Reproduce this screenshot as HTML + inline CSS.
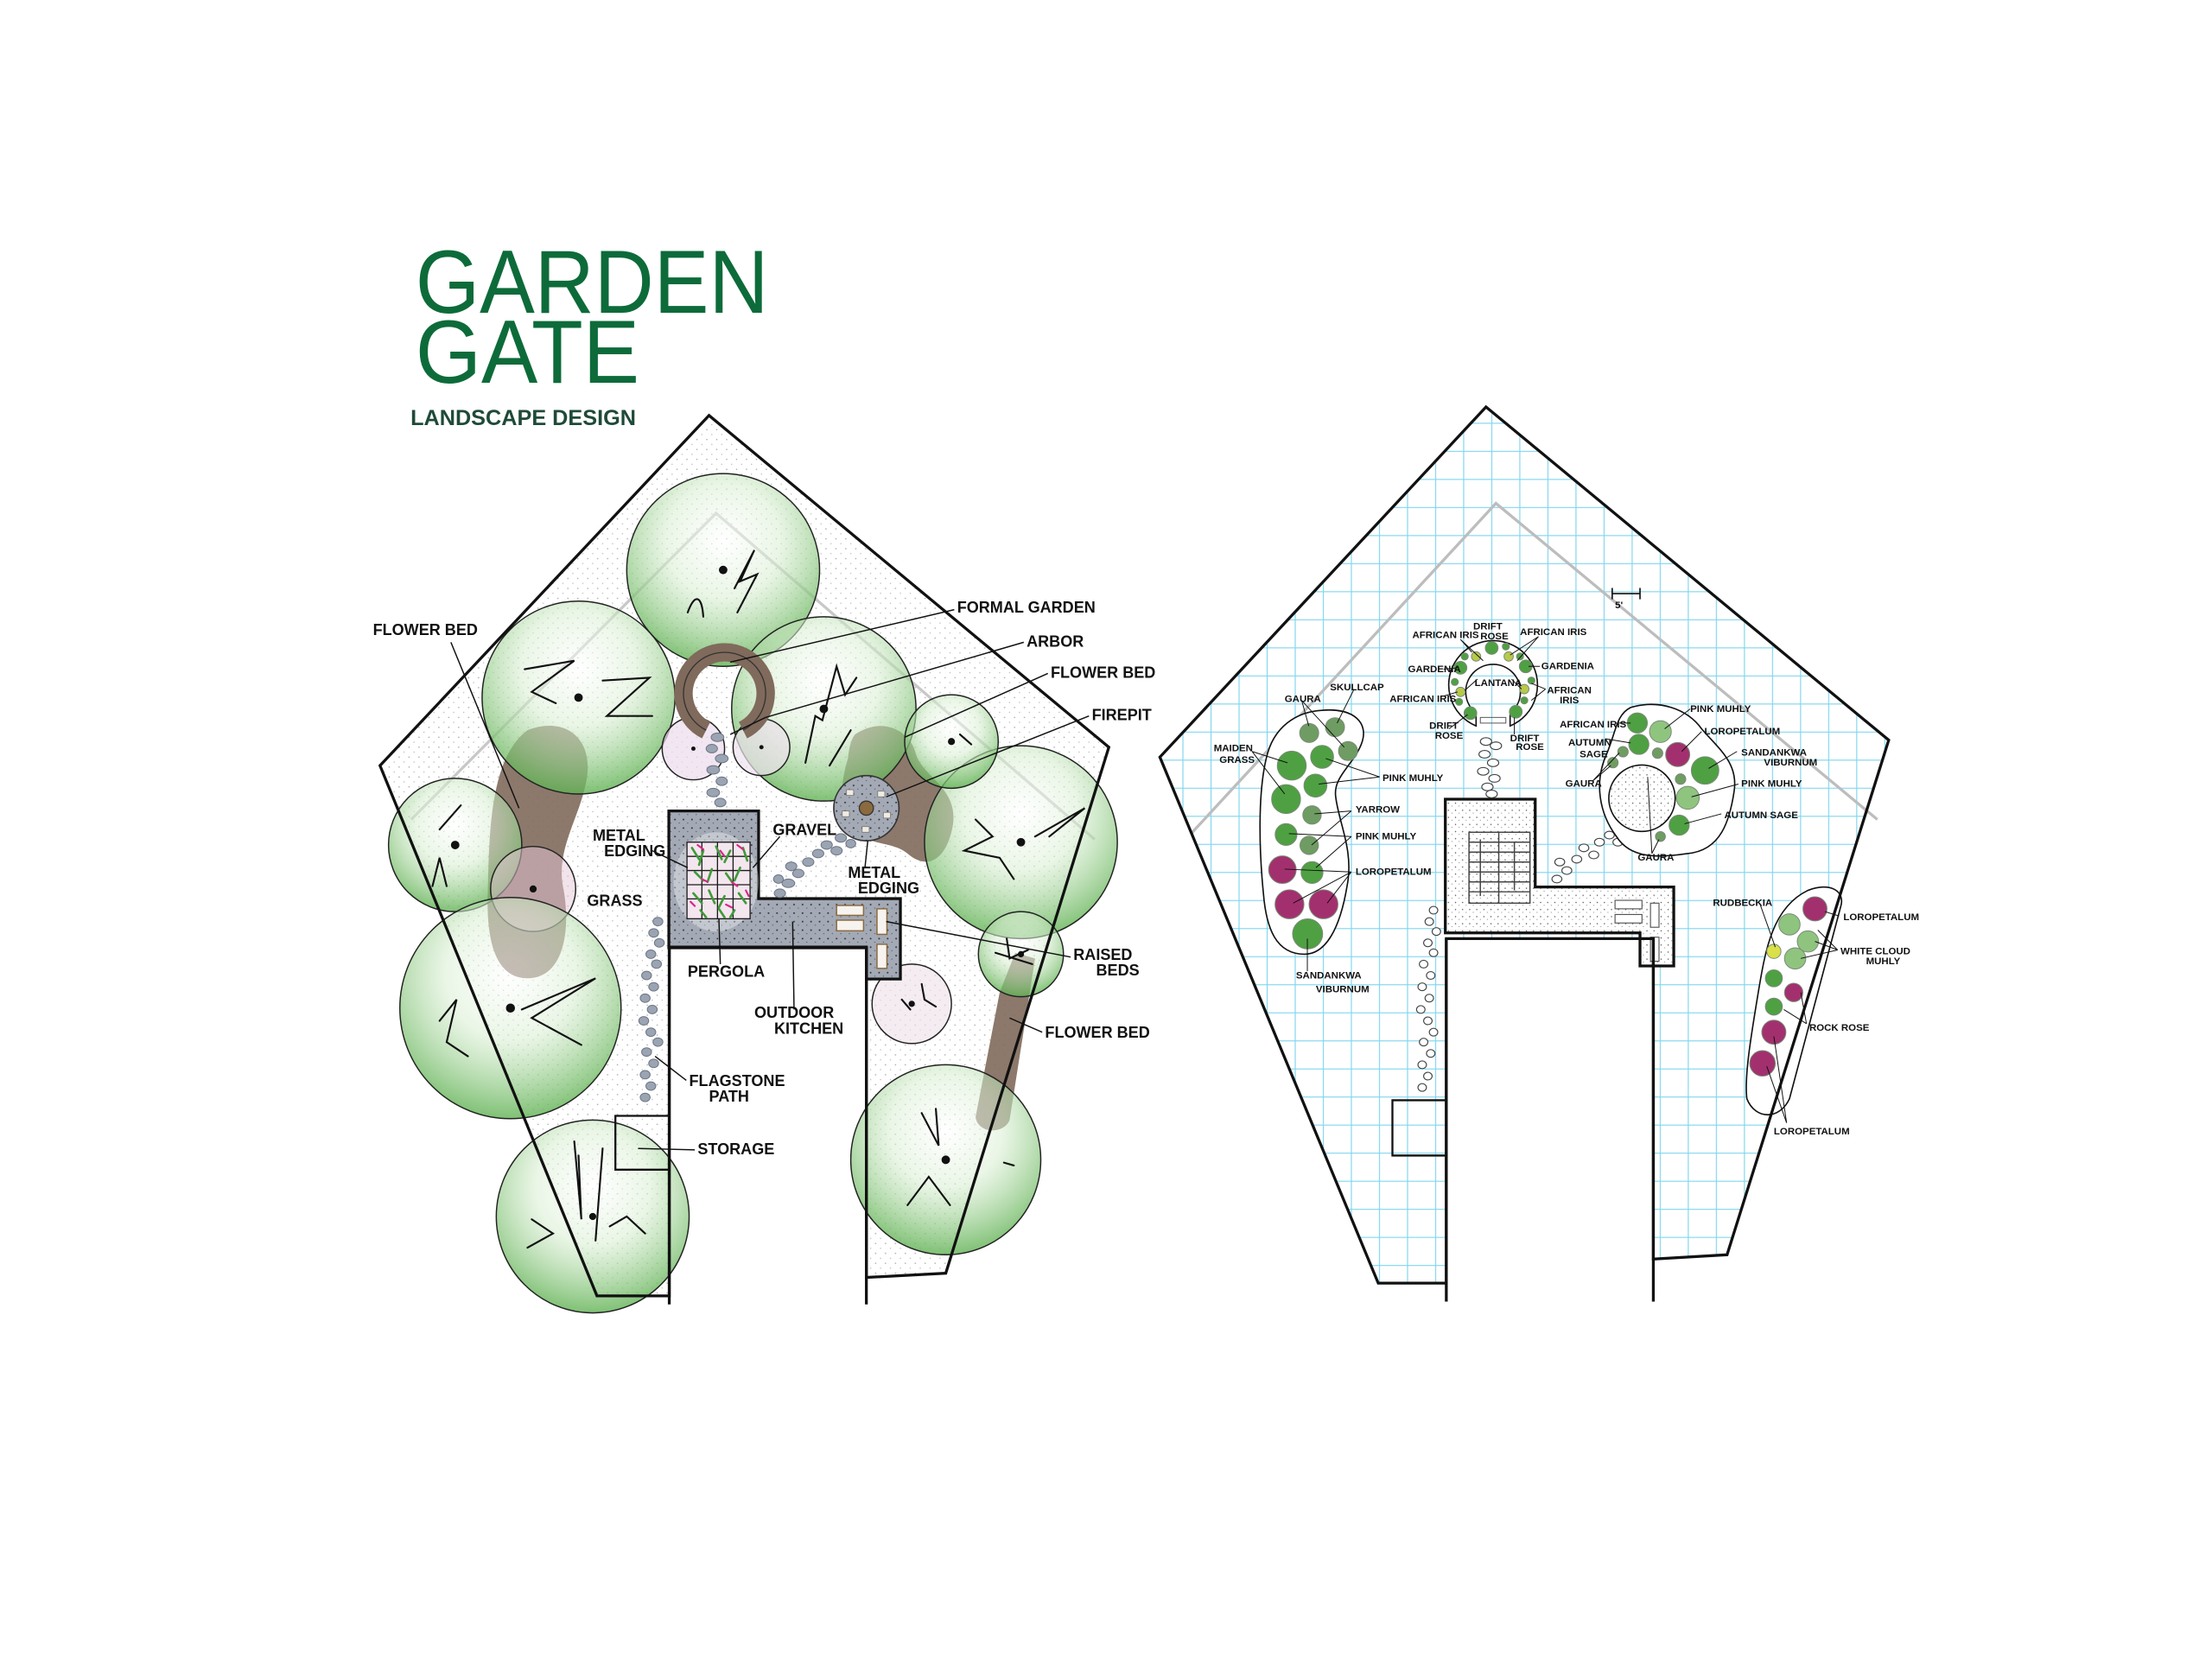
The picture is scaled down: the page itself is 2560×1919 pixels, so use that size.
<!DOCTYPE html>
<html><head><meta charset="utf-8"><style>
html,body{margin:0;padding:0;background:#fff;}
svg{display:block;}
text{font-family:"Liberation Sans",sans-serif;}
.lb{font-weight:bold;font-size:11px;fill:#111;}
.sm{font-weight:bold;font-size:7px;fill:#111;}
.ln{stroke:#111;stroke-width:0.9;fill:none;}
.tr{fill:url(#tg);stroke:#222;stroke-width:0.9;}
.sq{stroke:#111;stroke-width:1.3;fill:none;stroke-linecap:round;}
.fs{fill:#9ba4b3;stroke:#6d7583;stroke-width:0.6;}
.fw{fill:#fff;stroke:#444;stroke-width:0.7;}
.g1{fill:#4fa043;stroke:#7a8a77;stroke-width:0.6;}
.g2{fill:#8fc47f;stroke:#7a8a77;stroke-width:0.6;}
.g3{fill:#6f9c62;stroke:#7a8a77;stroke-width:0.6;}
.mg{fill:#a3306e;stroke:#7a8a77;stroke-width:0.6;}
</style></head><body>
<svg width="2560" height="1919" viewBox="0 0 1560 1169.4" preserveAspectRatio="none" xmlns="http://www.w3.org/2000/svg">
<defs>
<radialGradient id="tg" cx="50%" cy="35%" r="65%">
<stop offset="0%" stop-color="#ffffff" stop-opacity="0.5"/>
<stop offset="45%" stop-color="#d9eed2" stop-opacity="0.55"/>
<stop offset="100%" stop-color="#5fb152" stop-opacity="0.8"/>
</radialGradient>
<pattern id="dots" width="7" height="7" patternUnits="userSpaceOnUse">
<rect width="7" height="7" fill="#fff"/><circle cx="1.5" cy="2" r="0.5" fill="#aaa"/><circle cx="5" cy="5.5" r="0.45" fill="#bbb"/>
</pattern>
<pattern id="pdots" width="6" height="6" patternUnits="userSpaceOnUse">
<rect width="6" height="6" fill="#a3a9b5"/><circle cx="2" cy="2" r="0.6" fill="#333"/><circle cx="5" cy="4.5" r="0.4" fill="#555"/>
</pattern>
<pattern id="wdots" width="5" height="5" patternUnits="userSpaceOnUse">
<rect width="5" height="5" fill="#fff"/><circle cx="1.5" cy="1.5" r="0.45" fill="#555"/><circle cx="4" cy="3.5" r="0.35" fill="#888"/>
</pattern>
<pattern id="grid" width="19.8" height="19.8" patternUnits="userSpaceOnUse" x="2.3" y="1.2">
<rect width="19.8" height="19.8" fill="#fff"/>
<path d="M0 0V19.8M0 0H19.8" stroke="#7fd6ee" stroke-width="1.4"/>
</pattern>
</defs>

<!-- TITLE -->
<text x="293" y="220.6" font-size="63.5" fill="#0d6b3a" textLength="249" lengthAdjust="spacingAndGlyphs">GARDEN</text>
<text x="293" y="270" font-size="63.5" fill="#0d6b3a" textLength="158" lengthAdjust="spacingAndGlyphs">GATE</text>
<text x="289.5" y="299.8" font-size="15.5" font-weight="bold" fill="#1f4a38" textLength="159" lengthAdjust="spacingAndGlyphs">LANDSCAPE DESIGN</text>

<!-- ================= LEFT PLAN ================= -->
<polygon points="500,293 782,527 667,898 611,901 611,668 472,668 472,914 421,914 268,540" fill="url(#dots)"/>
<polyline points="290,578 505,362 772,592" fill="none" stroke="#c8c8c8" stroke-width="2"/>

<g fill="#806a5c" fill-opacity="0.9">
<path d="M372,515 C398,505 418,520 414,548 C410,575 392,598 397,625 C403,655 398,690 372,690 C348,690 343,660 344,630 C345,590 345,535 372,515 Z"/>
<path d="M603,518 C622,505 642,515 646,532 C651,548 676,556 672,582 C668,605 655,615 640,602 C628,592 608,598 598,580 C590,565 595,545 598,535 C599,527 600,522 603,518 Z"/>
<path d="M716,672 L730,676 L712,790 C708,800 690,800 688,788 L705,700 Z"/>
</g>

<!-- trees -->
<circle class="tr" cx="510" cy="402" r="68"/>
<circle class="tr" cx="408" cy="492" r="68"/>
<circle class="tr" cx="581" cy="500" r="65"/>
<circle class="tr" cx="321" cy="596" r="47"/>
<circle class="tr" cx="376" cy="627" r="30" style="fill:#e8c8d8;fill-opacity:.5"/>
<circle class="tr" cx="360" cy="711" r="78"/>
<circle class="tr" cx="418" cy="858" r="68"/>
<circle class="tr" cx="720" cy="594" r="68"/>
<circle class="tr" cx="671" cy="523" r="33"/>
<circle class="tr" cx="720" cy="673" r="30"/>
<circle class="tr" cx="643" cy="708" r="28" style="fill:#efe0e8;fill-opacity:.6"/>
<circle class="tr" cx="667" cy="818" r="67"/>
<circle class="tr" cx="489" cy="528" r="22" style="fill:#ecdcec;fill-opacity:.7"/>
<circle class="tr" cx="537" cy="527" r="20" style="fill:#eee2ee;fill-opacity:.7"/>

<!-- arbor ring on top -->
<path d="M498,515 A29,29 0 1 1 524,515" fill="none" stroke="#806a5c" stroke-width="13"/>
<path d="M498,515 A29,29 0 1 1 524,515" fill="none" stroke="#333" stroke-width="0.8"/>

<g fill="#111">
<circle cx="510" cy="402" r="3"/><circle cx="408" cy="492" r="3"/><circle cx="581" cy="500" r="3"/>
<circle cx="321" cy="596" r="3"/><circle cx="376" cy="627" r="2.5"/><circle cx="360" cy="711" r="3.2"/>
<circle cx="418" cy="858" r="2.5"/><circle cx="720" cy="594" r="3"/><circle cx="671" cy="523" r="2.5"/>
<circle cx="720" cy="673" r="2.2"/><circle cx="643" cy="708" r="2.2"/><circle cx="667" cy="818" r="3"/>
<circle cx="489" cy="528" r="1.5"/><circle cx="537" cy="527" r="1.5"/>
</g>
<g class="sq">
<path d="M485,432 C490,418 495,420 496,435 M518,415 L532,388 L522,410 L534,405 L520,432"/>
<path d="M370,472 L405,466 L375,488 L392,496 M425,480 L458,478 L428,505 L460,505"/>
<path d="M568,538 L575,505 L580,508 L590,470 L596,490 L604,478 M585,540 L600,515"/>
<path d="M310,585 L325,568 M305,625 L310,605 L315,625"/>
<path d="M310,720 L322,705 L315,735 L330,745 M368,712 L420,690 L375,718 L410,737"/>
<path d="M405,805 L410,860 L408,815 M425,810 L420,875 M375,860 L390,870 L372,880 M430,865 L442,858 L455,870"/>
<path d="M688,578 L700,590 L680,600 L705,605 L715,620 M730,590 L765,570 L740,590"/>
<path d="M710,662 L712,676 L725,670 M702,672 L728,680"/>
<path d="M636,705 L642,712 M650,694 L652,705 L660,710"/>
<path d="M650,785 L662,808 L660,782 M640,850 L655,830 L670,850 M708,820 L715,822"/>
<path d="M677,518 L685,525"/>
</g>

<!-- patio -->
<polygon points="471.7,572 535,572 535,633.8 635,633.8 635,690.5 611,690.5 611,668.5 471.7,668.5" fill="url(#pdots)" stroke="#111" stroke-width="2"/>
<ellipse cx="505" cy="622" rx="30" ry="35" fill="#fff" fill-opacity="0.35"/>
<g stroke="#1a1a1a" stroke-width="0.8" fill="none">
<rect x="484.5" y="594" width="44.5" height="54" fill="#f4e6ee"/>
<path d="M484.5,604H529M484.5,614H529M484.5,624H529M484.5,634H529M495,594V648M506,594V648M517,594V648"/>
</g>
<g stroke="#3f9a3a" stroke-width="1.6" stroke-linecap="round">
<path d="M488,598 l5,8 M496,600 l-3,10 M505,597 l4,9 M515,600 l-4,8 M524,598 l3,9 M490,615 l6,6 M502,613 l-3,9 M512,616 l5,7 M522,612 l-4,9 M489,630 l6,7 M500,628 l4,9 M511,632 l-4,8 M521,630 l5,7 M494,642 l4,5 M507,641 l4,6 M518,642 l-3,5"/>
</g>
<g stroke="#d6268a" stroke-width="1.3" stroke-linecap="round">
<path d="M492,596 l4,3 M508,600 l3,4 M520,596 l4,3 M495,620 l4,2 M516,622 l4,3 M487,636 l3,3 M512,638 l4,2 M526,628 l2,4"/>
</g>
<g fill="#f7f3ef" stroke="#8a6a3e" stroke-width="0.9">
<rect x="590" y="638.6" width="19" height="7"/>
<rect x="590" y="649" width="19" height="7.5"/>
<rect x="618.5" y="641" width="7" height="18"/>
<rect x="618.5" y="666" width="7" height="17"/>
</g>
<circle cx="611" cy="570" r="23" fill="url(#pdots)" stroke="#333" stroke-width="1"/>
<circle cx="611" cy="570" r="5" fill="#8a6a3e" stroke="#333" stroke-width="0.8"/>
<g fill="#f1ece2" stroke="#777" stroke-width="0.5"><rect x="597" y="557" width="5" height="4"/><rect x="619" y="558" width="5" height="4"/><rect x="594" y="572" width="5" height="4"/><rect x="623" y="573" width="5" height="4"/><rect x="608" y="583" width="5" height="4"/></g>

<polyline points="472,787 434,787 434,825 472,825" fill="none" stroke="#111" stroke-width="1.4"/>

<g class="fs">
<ellipse cx="506" cy="520" rx="4.5" ry="3"/><ellipse cx="502" cy="528" rx="4" ry="3"/><ellipse cx="509" cy="535" rx="4.5" ry="3"/><ellipse cx="503" cy="543" rx="4.5" ry="3"/><ellipse cx="509" cy="551" rx="4" ry="3"/><ellipse cx="503" cy="559" rx="4.5" ry="3"/><ellipse cx="508" cy="566" rx="4" ry="3"/>
<ellipse cx="550" cy="630" rx="4" ry="3"/><ellipse cx="556" cy="623" rx="4.5" ry="3"/><ellipse cx="549" cy="620" rx="3.5" ry="3"/><ellipse cx="563" cy="616" rx="4" ry="3"/><ellipse cx="558" cy="611" rx="4" ry="3"/><ellipse cx="570" cy="608" rx="4" ry="3"/><ellipse cx="577" cy="602" rx="4" ry="3"/><ellipse cx="583" cy="596" rx="4" ry="3"/><ellipse cx="590" cy="600" rx="4" ry="3"/><ellipse cx="593" cy="591" rx="4" ry="3"/><ellipse cx="600" cy="595" rx="3.5" ry="3"/>
<ellipse cx="464" cy="650" rx="3.5" ry="3"/><ellipse cx="461" cy="658" rx="3.5" ry="3"/><ellipse cx="465" cy="665" rx="3.5" ry="3"/><ellipse cx="459" cy="673" rx="3.5" ry="3"/><ellipse cx="463" cy="680" rx="3.5" ry="3"/><ellipse cx="456" cy="688" rx="3.5" ry="3"/><ellipse cx="461" cy="696" rx="3.5" ry="3"/><ellipse cx="455" cy="704" rx="3.5" ry="3"/><ellipse cx="460" cy="712" rx="3.5" ry="3"/><ellipse cx="454" cy="720" rx="3.5" ry="3"/><ellipse cx="459" cy="728" rx="3.5" ry="3"/><ellipse cx="464" cy="735" rx="3.5" ry="3"/><ellipse cx="456" cy="742" rx="3.5" ry="3"/><ellipse cx="461" cy="750" rx="3.5" ry="3"/><ellipse cx="455" cy="758" rx="3.5" ry="3"/><ellipse cx="459" cy="766" rx="3.5" ry="3"/><ellipse cx="455" cy="774" rx="3.5" ry="3"/>
</g>

<polyline points="611,920 611,668" fill="none" stroke="#111" stroke-width="2"/>
<polyline points="472,920 472,668" fill="none" stroke="#111" stroke-width="2"/>
<polygon points="500,293 782,527 667,898 611,901 611,668 472,668 472,914 421,914 268,540" fill="none" stroke="#111" stroke-width="2"/>

<g class="ln">
<path d="M318,453 L366,570"/>
<path d="M673,430 L515,467"/>
<path d="M722,453 L540,506 L515,518"/>
<path d="M739,475 L638,520"/>
<path d="M768,505 L625,562"/>
<path d="M460,600 L485,612"/>
<path d="M550,590 L531,612"/>
<path d="M610,612 L612,593"/>
<path d="M508,680 L507,648"/>
<path d="M755,675 L625,650"/>
<path d="M560,712 L559,650"/>
<path d="M735,728 L712,718"/>
<path d="M484,762 L462,745"/>
<path d="M490,811 L450,810"/>
</g>
<text class="lb" x="263" y="448">FLOWER BED</text>
<text class="lb" x="675" y="432">FORMAL GARDEN</text>
<text class="lb" x="724" y="456">ARBOR</text>
<text class="lb" x="741" y="478">FLOWER BED</text>
<text class="lb" x="770" y="508">FIREPIT</text>
<text class="lb" x="418" y="593">METAL</text>
<text class="lb" x="426" y="604">EDGING</text>
<text class="lb" x="545" y="589">GRAVEL</text>
<text class="lb" x="414" y="639">GRASS</text>
<text class="lb" x="598" y="619">METAL</text>
<text class="lb" x="605" y="630">EDGING</text>
<text class="lb" x="485" y="689">PERGOLA</text>
<text class="lb" x="757" y="677">RAISED</text>
<text class="lb" x="773" y="688">BEDS</text>
<text class="lb" x="532" y="718">OUTDOOR</text>
<text class="lb" x="546" y="729">KITCHEN</text>
<text class="lb" x="737" y="732">FLOWER BED</text>
<text class="lb" x="486" y="766">FLAGSTONE</text>
<text class="lb" x="500" y="777">PATH</text>
<text class="lb" x="492" y="814">STORAGE</text>

<!-- ================= RIGHT PLAN ================= -->
<polygon points="1048,287 1332,522 1218,885 1166,888 1166,662 1020,662 1020,905 972,905 818,534" fill="url(#grid)"/>
<polyline points="840,588 1055,355 1324,578" fill="none" stroke="#bdbdbd" stroke-width="2"/>
<polygon points="1019.3,563.7 1082.7,563.7 1082.7,625.6 1180.4,625.6 1180.4,681.3 1156.6,681.3 1156.6,658 1019.3,658" fill="url(#wdots)" stroke="#111" stroke-width="2"/>
<g stroke="#444" stroke-width="0.9" fill="none">
<rect x="1036" y="587" width="43" height="50"/>
<path d="M1036,594H1079M1036,601H1079M1036,608H1079M1036,615H1079M1036,622H1079M1036,629H1079M1057,587V637M1044,592V632M1068,594V628"/>
</g>
<g fill="#fff" stroke="#555" stroke-width="0.7">
<rect x="1139" y="635" width="19" height="6"/><rect x="1139" y="645" width="19" height="6"/>
<rect x="1164" y="637" width="6" height="17"/><rect x="1164" y="661" width="6" height="17"/>
</g>
<polyline points="1020,776 982,776 982,815 1020,815" fill="none" stroke="#111" stroke-width="1.4"/>
<g class="fw">
<ellipse cx="1048" cy="523" rx="4" ry="2.7"/><ellipse cx="1055" cy="526" rx="4" ry="2.7"/><ellipse cx="1047" cy="532" rx="4" ry="2.7"/><ellipse cx="1053" cy="538" rx="4" ry="2.7"/><ellipse cx="1046" cy="544" rx="4" ry="2.7"/><ellipse cx="1054" cy="549" rx="4" ry="2.7"/><ellipse cx="1049" cy="555" rx="4" ry="2.7"/><ellipse cx="1052" cy="560" rx="4" ry="2.7"/>
<ellipse cx="1098" cy="620" rx="3.5" ry="2.7"/><ellipse cx="1105" cy="614" rx="3.5" ry="2.7"/><ellipse cx="1100" cy="608" rx="3.5" ry="2.7"/><ellipse cx="1112" cy="606" rx="3.5" ry="2.7"/><ellipse cx="1117" cy="598" rx="3.5" ry="2.7"/><ellipse cx="1124" cy="603" rx="3.5" ry="2.7"/><ellipse cx="1128" cy="594" rx="3.5" ry="2.7"/><ellipse cx="1135" cy="589" rx="3.5" ry="2.7"/><ellipse cx="1141" cy="594" rx="3.5" ry="2.7"/><ellipse cx="1143" cy="584" rx="3.5" ry="2.7"/>
<ellipse cx="1011" cy="642" rx="3" ry="2.7"/><ellipse cx="1008" cy="650" rx="3" ry="2.7"/><ellipse cx="1013" cy="657" rx="3" ry="2.7"/><ellipse cx="1007" cy="665" rx="3" ry="2.7"/><ellipse cx="1011" cy="672" rx="3" ry="2.7"/><ellipse cx="1004" cy="680" rx="3" ry="2.7"/><ellipse cx="1009" cy="688" rx="3" ry="2.7"/><ellipse cx="1003" cy="696" rx="3" ry="2.7"/><ellipse cx="1008" cy="704" rx="3" ry="2.7"/><ellipse cx="1002" cy="712" rx="3" ry="2.7"/><ellipse cx="1007" cy="720" rx="3" ry="2.7"/><ellipse cx="1011" cy="728" rx="3" ry="2.7"/><ellipse cx="1004" cy="735" rx="3" ry="2.7"/><ellipse cx="1009" cy="743" rx="3" ry="2.7"/><ellipse cx="1003" cy="751" rx="3" ry="2.7"/><ellipse cx="1007" cy="759" rx="3" ry="2.7"/><ellipse cx="1003" cy="767" rx="3" ry="2.7"/>
</g>
<path d="M1041,512 A31.3,31.3 0 1 1 1065,512 L1065,503 A19.3,19.3 0 1 0 1041,503 Z" fill="#fff" stroke="#111" stroke-width="1"/>
<rect x="1044" y="506" width="18" height="4" fill="none" stroke="#555" stroke-width="0.6"/>
<g>
<circle class="g1" cx="1052" cy="457" r="4.5"/><circle class="g2" cx="1041" cy="463" r="3.3" style="fill:#b8c94a"/><circle class="g2" cx="1064" cy="463" r="3.3" style="fill:#b8c94a"/>
<circle class="g1" cx="1030" cy="471" r="4.5"/><circle class="g1" cx="1076" cy="470" r="4.5"/>
<circle class="g2" cx="1030" cy="488" r="3.3" style="fill:#b8c94a"/><circle class="g2" cx="1075" cy="486" r="3.3" style="fill:#b8c94a"/>
<circle class="g1" cx="1037" cy="503" r="4.5"/><circle class="g1" cx="1069" cy="502" r="4.5"/>
<circle class="g1" cx="1033" cy="463" r="2.5"/><circle class="g1" cx="1062" cy="456" r="2.5"/><circle class="g1" cx="1072" cy="463" r="2.5"/><circle class="g1" cx="1026" cy="481" r="2.5"/><circle class="g1" cx="1080" cy="480" r="2.5"/><circle class="g1" cx="1029" cy="495" r="2.5"/><circle class="g1" cx="1075" cy="494" r="2.5"/>
</g>
<path d="M932,501 C955,499 966,510 960,525 C954,540 940,548 942,562 C944,580 955,600 950,625 C945,655 935,673 920,673 C900,673 893,655 891,630 C888,600 887,560 893,535 C898,512 915,502 932,501 Z" fill="#fff" stroke="#111" stroke-width="1"/>
<circle class="g3" cx="923.3" cy="517" r="6.7"/><circle class="g3" cx="941.5" cy="512.9" r="6.7"/><circle class="g3" cx="950.7" cy="529.7" r="6.7"/>
<circle class="g1" cx="911" cy="540" r="10.2"/><circle class="g1" cx="932.4" cy="533.8" r="8.1"/><circle class="g1" cx="927.7" cy="554.1" r="8.1"/>
<circle class="g1" cx="907" cy="563.6" r="10.2"/><circle class="g3" cx="925.3" cy="574.8" r="6.5"/><circle class="g1" cx="907" cy="588.6" r="7.7"/>
<circle class="g3" cx="923.3" cy="596.2" r="6.5"/><circle class="mg" cx="904.4" cy="613.4" r="9.7"/><circle class="g1" cx="925.3" cy="615.4" r="7.7"/>
<circle class="mg" cx="909.4" cy="637.8" r="10.2"/><circle class="mg" cx="933.4" cy="637.8" r="10.2"/><circle class="g1" cx="922.2" cy="658.7" r="10.6"/>
<path d="M1150,499 C1170,493 1190,500 1200,514 C1212,528 1226,538 1223,558 C1220,578 1214,600 1190,602 C1170,605 1150,606 1140,590 C1128,574 1124,552 1133,532 C1140,515 1140,504 1150,499 Z" fill="#fff" stroke="#111" stroke-width="1"/>
<circle cx="1158" cy="563" r="23.4" fill="url(#wdots)" stroke="#111" stroke-width="1"/>
<circle class="g1" cx="1154.7" cy="509.9" r="7.1"/><circle class="g2" cx="1171" cy="516" r="7.7"/><circle class="g1" cx="1155.8" cy="525" r="7.1"/>
<circle class="mg" cx="1183.2" cy="532.2" r="8.5"/><circle class="g1" cx="1202.5" cy="543.4" r="9.7"/>
<circle class="g3" cx="1144.6" cy="530.2" r="3.7"/><circle class="g3" cx="1137.5" cy="537.9" r="3.7"/><circle class="g3" cx="1169" cy="531.2" r="3.7"/><circle class="g3" cx="1185.2" cy="549.5" r="3.7"/>
<circle class="g2" cx="1190.3" cy="562.7" r="8.1"/><circle class="g1" cx="1184.2" cy="582" r="7.1"/><circle class="g3" cx="1171" cy="590" r="3.5"/>
<path d="M1275,628 C1290,622 1302,628 1298,640 L1262,775 C1255,790 1238,790 1232,775 C1230,760 1235,730 1240,700 C1245,670 1250,640 1275,628 Z" fill="#fff" stroke="#111" stroke-width="1"/>
<circle class="mg" cx="1280" cy="641" r="8.5"/><circle class="g2" cx="1262" cy="652" r="7.5"/><circle class="g2" cx="1275" cy="664" r="7.5"/>
<circle class="g2" cx="1251" cy="671" r="5" style="fill:#d9e04a"/><circle class="g2" cx="1266" cy="676" r="7.5"/>
<circle class="g1" cx="1251" cy="690" r="6"/><circle class="mg" cx="1265" cy="700" r="6.5"/><circle class="g1" cx="1251" cy="710" r="6"/>
<circle class="mg" cx="1251" cy="728" r="8.5"/><circle class="mg" cx="1243" cy="750" r="9"/>
<path d="M1137,418.7H1156.6M1137,414.7V422.7M1156.6,414.7V422.7" stroke="#111" stroke-width="1"/>
<text class="sm" x="1139" y="429" font-size="8">5'</text>
<line x1="1166" y1="662" x2="1166" y2="918" stroke="#111" stroke-width="2"/>
<line x1="1020" y1="662" x2="1020" y2="918" stroke="#111" stroke-width="2"/>
<polygon points="1048,287 1332,522 1218,885 1166,888 1166,662 1020,662 1020,905 972,905 818,534" fill="none" stroke="#111" stroke-width="2"/>

<g class="ln" style="stroke-width:0.6">
<path d="M1030,451 L1038,460 M1030,451 L1046,466 M1085,449 L1065,462 M1085,449 L1070,466 M1018,472 L1028,471 M1086,470 L1078,470 M1042,479 L1033,487 M1066,479 L1073,486 M1018,491 L1028,488 M1090,486 L1080,482 M1090,486 L1080,494 M1022,514 L1035,504 M1068,518 L1068,506"/>
<path d="M918,494 L923,512 M918,494 L948,527 M955,486 L943,510 M883,530 L908,538 M883,530 L906,560 M973,548 L935,535 M973,548 L930,553 M953,572 L927,574 M953,572 L925,596 M953,590 L909,588 M953,590 L928,612 M953,615 L906,613 M953,615 L912,637 M953,615 L936,637 M922,685 L922,662"/>
<path d="M1142,510 L1150,510 M1132,521 L1150,524 M1123,551 L1142,531 M1123,551 L1136,540 M1192,500 L1174,514 M1200,516 L1186,530 M1225,530 L1205,542 M1226,553 L1193,562 M1214,574 L1188,581 M1165,602 L1162,548 M1165,602 L1170,592"/>
<path d="M1241,637 L1252,668 M1297,646 L1287,643 M1296,670 L1280,664 M1296,670 L1270,676 M1296,670 L1282,656 M1274,722 L1258,712 M1274,722 L1270,700 M1260,792 L1251,731 M1260,792 L1246,752"/>
</g>
<g class="sm">
<text x="996" y="450">AFRICAN IRIS</text>
<text x="1039" y="444">DRIFT</text><text x="1044" y="451">ROSE</text>
<text x="1072" y="448">AFRICAN IRIS</text>
<text x="993" y="474">GARDENIA</text>
<text x="1087" y="472">GARDENIA</text>
<text x="1040" y="484">LANTANA</text>
<text x="980" y="495">AFRICAN IRIS</text>
<text x="1091" y="489">AFRICAN</text><text x="1100" y="496">IRIS</text>
<text x="1008" y="514">DRIFT</text><text x="1012" y="521">ROSE</text>
<text x="1065" y="523">DRIFT</text><text x="1069" y="529">ROSE</text>
<text x="906" y="495">GAURA</text>
<text x="938" y="487">SKULLCAP</text>
<text x="856" y="530">MAIDEN</text><text x="860" y="538">GRASS</text>
<text x="975" y="551">PINK MUHLY</text>
<text x="956" y="573">YARROW</text>
<text x="956" y="592">PINK MUHLY</text>
<text x="956" y="617">LOROPETALUM</text>
<text x="914" y="690">SANDANKWA</text><text x="928" y="700">VIBURNUM</text>
<text x="1192" y="502">PINK MUHLY</text>
<text x="1100" y="513">AFRICAN IRIS</text>
<text x="1202" y="518">LOROPETALUM</text>
<text x="1106" y="526">AUTUMN</text><text x="1114" y="534">SAGE</text>
<text x="1228" y="533">SANDANKWA</text><text x="1244" y="540">VIBURNUM</text>
<text x="1104" y="555">GAURA</text>
<text x="1228" y="555">PINK MUHLY</text>
<text x="1216" y="577">AUTUMN SAGE</text>
<text x="1155" y="607">GAURA</text>
<text x="1208" y="639">RUDBECKIA</text>
<text x="1300" y="649">LOROPETALUM</text>
<text x="1298" y="673">WHITE CLOUD</text><text x="1316" y="680">MUHLY</text>
<text x="1276" y="727">ROCK ROSE</text>
<text x="1251" y="800">LOROPETALUM</text>
</g>
</svg>
</body></html>
